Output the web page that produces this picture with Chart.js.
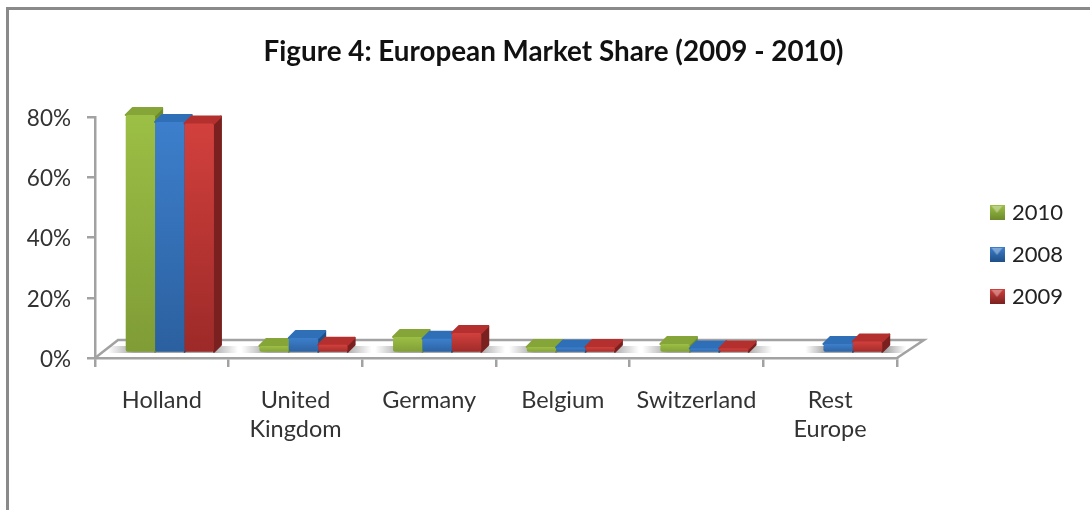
<!DOCTYPE html>
<html>
<head>
<meta charset="utf-8">
<title>European Market Share</title>
<script src="https://cdn.jsdelivr.net/npm/chart.js@4"></script>
<style>
  html, body { margin: 0; padding: 0; background: #fff; overflow: hidden; }
  #frame { position: absolute; left: 6px; top: 7px; width: 1090px; height: 510px; border-left: 3px solid #8a8a8a; border-top: 3px solid #8a8a8a; }
  #wrap { position: absolute; left: 0; top: 0; width: 1090px; height: 510px; filter: blur(0.6px); }
</style>
</head>
<body>
<div id="frame"></div>
<div id="wrap"><canvas id="marketChart" width="1090" height="510"></canvas></div>
<script>
// Data
const chartTitle = 'Figure 4: European Market Share (2009 - 2010)';
const categories = ['Holland', ['United', 'Kingdom'], 'Germany', 'Belgium', 'Switzerland', ['Rest', 'Europe']];
const seriesNames = ['2010', '2008', '2009'];
const values2010 = [79, 2.3, 5.3, 2, 3, null];
const values2008 = [76.7, 5, 4.7, 1.8, 1.5, 3];
const values2009 = [76.2, 2.7, 6.6, 2, 1.5, 3.8];

// Colours per series: light, dark, side, cap
const palette = [
    { light: '#9cbf45', dark: '#7f9c36', side: '#6c8a2c', cap: '#86a538' },
    { light: '#3d7fcc', dark: '#2b609f', side: '#1f4f86', cap: '#2f6fb8' },
    { light: '#d2403d', dark: '#9c2a28', side: '#7a2120', cap: '#b3302e' }
];
const axisGrey = '#a2a2a2';
const fontName = 'Lato, "Open Sans", sans-serif';

// Bars stand in from the floor edge, like the 3D look of the original
const barShift = { x: 8, y: -5 };
const depth = { x: 7, y: 7 };

function barGradient(context, colors) {
    const chart = context.chart;
    if (context.dataIndex === undefined || !chart.chartArea) return colors.light;
    const value = context.dataset.data[context.dataIndex];
    if (value === null) return colors.light;
    const yScale = chart.scales.y;
    const g = chart.ctx.createLinearGradient(0, yScale.getPixelForValue(value), 0, yScale.getPixelForValue(0));
    g.addColorStop(0, colors.light);
    g.addColorStop(1, colors.dark);
    return g;
}

// Small swatch used as legend marker
function makeSwatch(colors) {
    const c = document.createElement('canvas');
    c.width = 15;
    c.height = 15;
    const x = c.getContext('2d');
    const g = x.createLinearGradient(0, 0, 0, 15);
    g.addColorStop(0, colors.light);
    g.addColorStop(1, colors.side);
    x.fillStyle = g;
    x.fillRect(0, 0, 15, 15);
    x.fillStyle = 'rgba(255,255,255,0.35)';
    x.beginPath();
    x.moveTo(2, 1);
    x.lineTo(13, 1);
    x.lineTo(7.5, 8);
    x.closePath();
    x.fill();
    return c;
}
const swatches = palette.map(makeSwatch);

function polygon(ctx, pts, fill) {
    ctx.fillStyle = fill;
    ctx.strokeStyle = fill;
    ctx.lineWidth = 2;
    ctx.lineJoin = 'round';
    ctx.beginPath();
    pts.forEach((p, i) => i ? ctx.lineTo(p[0], p[1]) : ctx.moveTo(p[0], p[1]));
    ctx.closePath();
    ctx.fill();
    ctx.stroke();
}

const seriesData = [values2010, values2008, values2009];

const scenePlugin = {
    id: 'scene',
    afterLayout(chart) {
        // Title is centred on the frame, legend sits in its own spot
        chart.titleBlock.left = 17;
        chart.titleBlock.right = 1090;
        const legend = chart.legend;
        legend.left = 973;
        legend.right = legend.left + legend.width;
        legend.top = 181.5;
        legend.bottom = legend.top + legend.height;
    },
    beforeDatasetsDraw(chart) {
        const ctx = chart.ctx;
        const a = chart.chartArea;

        // Floor outline
        ctx.save();
        ctx.strokeStyle = axisGrey;
        ctx.lineWidth = 2.5;
        ctx.beginPath();
        ctx.moveTo(a.left, a.bottom);
        ctx.lineTo(a.left + 23, a.bottom - 18);
        ctx.lineTo(a.right + 27, a.bottom - 18);
        ctx.lineTo(a.right, a.bottom);
        ctx.stroke();
        ctx.restore();

        ctx.save();
        ctx.translate(barShift.x, barShift.y);
        const metas = chart.getSortedVisibleDatasetMetas();
        const hasValue = (s, i) => seriesData[s][i] !== null;

        // Soft shadow on the floor under each group
        const base = chart.scales.y.getPixelForValue(0);
        categories.forEach((c, i) => {
            const bars = metas.filter((m, s) => hasValue(s, i)).map(m => m.data[i]);
            const x0 = bars[0].x - bars[0].width / 2 - 18;
            const x1 = bars[bars.length - 1].x + bars[0].width / 2 + 24;
            const g = ctx.createLinearGradient(x0, 0, x1, 0);
            g.addColorStop(0, 'rgba(130,130,130,0)');
            g.addColorStop(0.2, 'rgba(130,130,130,0.7)');
            g.addColorStop(0.8, 'rgba(130,130,130,0.7)');
            g.addColorStop(1, 'rgba(130,130,130,0)');
            ctx.fillStyle = g;
            ctx.fillRect(x0, base - 7, x1 - x0, 7);
        });

        // Left to right so each bar covers the side of the one before it
        metas.forEach((meta, s) => {
            meta.data.forEach((bar, i) => {
                if (!hasValue(s, i)) return;
                const l = bar.x - bar.width / 2;
                const r = bar.x + bar.width / 2;
                polygon(ctx, [[r, bar.y], [r + depth.x, bar.y - depth.y], [r + depth.x, bar.base - depth.y], [r, bar.base]], palette[s].side);
                polygon(ctx, [[l, bar.y], [l + depth.x, bar.y - depth.y], [r + depth.x, bar.y - depth.y], [r, bar.y]], palette[s].cap);
                bar.draw(ctx);
            });
        });
        ctx.restore();
        return false;
    }
};

new Chart(document.getElementById('marketChart'), {
    type: 'bar',
    data: {
        labels: categories,
        datasets: seriesNames.map((name, s) => ({
            label: name,
            data: seriesData[s],
            backgroundColor: context => barGradient(context, palette[s]),
            borderRadius: 2,
            borderSkipped: false,
            categoryPercentage: 0.66,
            barPercentage: 1
        }))
    },
    options: {
        responsive: false,
        animation: false,
        layout: { padding: { left: 0, right: 93, top: 0, bottom: 0 } },
        plugins: {
            tooltip: { enabled: false },
            title: {
                display: true,
                text: chartTitle,
                color: '#111',
                font: { family: fontName, size: 27.8, weight: 'bold', lineHeight: 1.2 },
                padding: { top: 35.5, bottom: 48.2 }
            },
            legend: {
                position: 'right',
                align: 'start',
                labels: {
                    usePointStyle: true,
                    pointStyleWidth: 8,
                    padding: 20,
                    color: '#222',
                    font: { family: fontName, size: 22 },
                    generateLabels(chart) {
                        return Chart.defaults.plugins.legend.labels.generateLabels(chart)
                            .map((item, i) => Object.assign(item, { pointStyle: swatches[i] }));
                    }
                }
            }
        },
        scales: {
            x: {
                afterFit(scale) { scale.height = 152; },
                border: { color: axisGrey, width: 2.5 },
                grid: { drawOnChartArea: false, color: axisGrey, lineWidth: 2.5, tickLength: 9 },
                ticks: {
                    color: '#333',
                    padding: 19,
                    maxRotation: 0,
                    autoSkip: false,
                    font: { family: fontName, size: 23.5, lineHeight: 1.24 }
                }
            },
            y: {
                min: 0,
                max: 80,
                afterFit(scale) { scale.width = 95; },
                border: { color: axisGrey, width: 2.5 },
                grid: { drawOnChartArea: false, color: axisGrey, lineWidth: 2.5, tickLength: 8 },
                ticks: {
                    stepSize: 20,
                    color: '#333',
                    padding: 16,
                    labelOffset: 1.5,
                    font: { family: fontName, size: 22.5 },
                    callback: value => value + '%'
                }
            }
        }
    },
    plugins: [scenePlugin]
});
</script>
</body>
</html>
